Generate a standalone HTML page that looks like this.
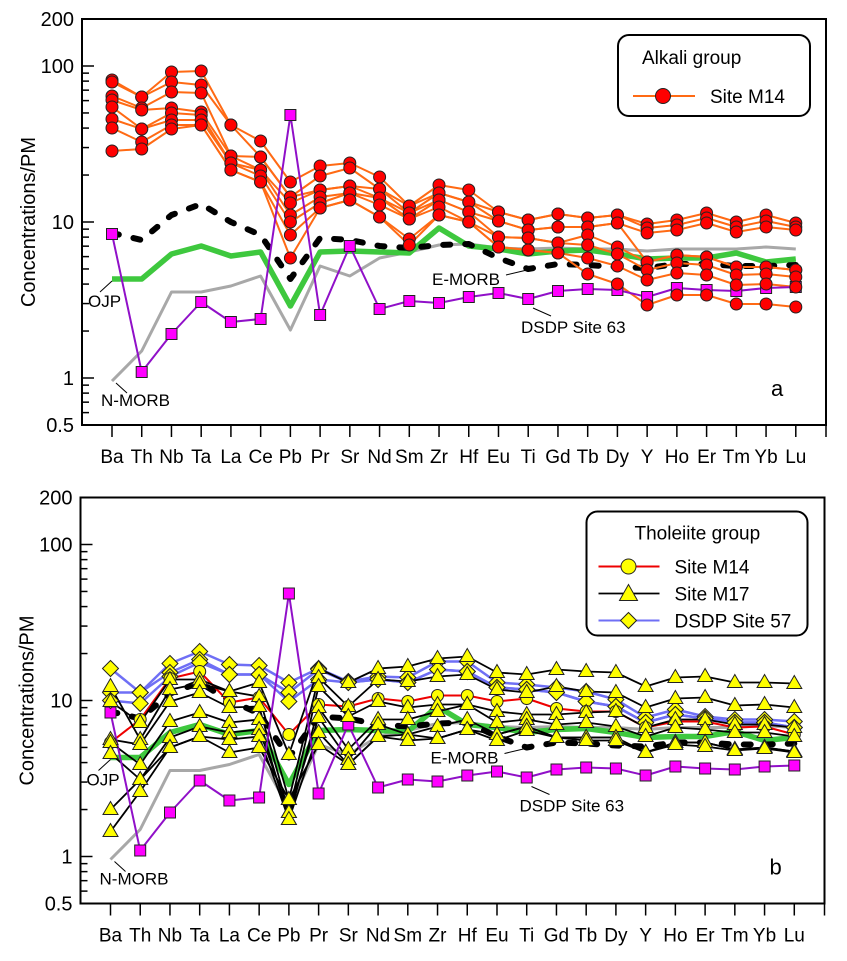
<!DOCTYPE html>
<html><head><meta charset="utf-8"><style>
html,body{margin:0;padding:0;background:#fff;}
svg{display:block;font-family:"Liberation Sans",Arial,sans-serif;}
</style></head><body>
<svg id="s" width="847" height="961" viewBox="0 0 847 961" xmlns="http://www.w3.org/2000/svg"></svg>
<script>
const S=document.getElementById('s');
const els=["Ba","Th","Nb","Ta","La","Ce","Pb","Pr","Sr","Nd","Sm","Zr","Hf","Eu","Ti","Gd","Tb","Dy","Y","Ho","Er","Tm","Yb","Lu"];
const X=i=>112+i*29.73;
const Y=v=>378-156*Math.log10(v);
let out='';
function poly(ys,stroke,w,extra){return `<polyline points="${ys.map((y,i)=>X(i).toFixed(1)+','+y).join(' ')}" fill="none" stroke="${stroke}" stroke-width="${w}" stroke-linejoin="round" ${extra||''}/>`;}
function circ(ys,fill){return ys.map((y,i)=>`<circle cx="${X(i).toFixed(1)}" cy="${y}" r="6" fill="${fill}" stroke="#222" stroke-width="1"/>`).join('');}
function sq(ys){return ys.map((y,i)=>`<rect x="${(X(i)-5.5).toFixed(1)}" y="${y-5.5}" width="11" height="11" fill="#ff00ff" stroke="#222" stroke-width="1"/>`).join('');}
function tri(ys){return ys.map((y,i)=>{const x=X(i);return `<polygon points="${x},${y-8} ${x-7.5},${y+5} ${x+7.5},${y+5}" fill="#ffff00" stroke="#222" stroke-width="1"/>`}).join('');}
function dia(ys){return ys.map((y,i)=>{const x=X(i);return `<polygon points="${x},${y-8} ${x+8},${y} ${x},${y+8} ${x-8},${y}" fill="#ffff00" stroke="#222" stroke-width="1"/>`}).join('');}

const green=[279,279,254,246,256,252,306,252,251,252,253,228,246,249,254,251,250,254,259,258,258,253,262,259];
const gray=[381,351,292,292,286,276,330,266,276,258,252,245,244,248,249,248,249,249,251,249,249,249,247,249];
const emorb=[233,240,215,204,222,235,279,238,240,246,248,245,244,258,269,264,265,267,268,264,264,266,266,265];
const mag=[234,372,334,302,322,319,115,315,246,309,301,303,297,293,299,291,289,290,297,288,290,291,288,287];

function axes(label){
  let o='';
  o+=`<rect x="82" y="19" width="744" height="406" fill="none" stroke="#000" stroke-width="2"/>`;
  for(let d=-1;d<=2;d++){for(let m=1;m<=9;m++){const v=m*Math.pow(10,d);if(v<0.5||v>200)continue;const y=Y(v);const L=(m===1)?12:7;o+=`<line x1="82" y1="${y}" x2="${82+L}" y2="${y}" stroke="#000" stroke-width="1.5"/>`;}}
  [[200,"200"],[100,"100"],[10,"10"],[1,"1"],[0.5,"0.5"]].forEach(([v,t])=>{o+=`<text x="74" y="${Y(v)+7}" font-size="20" text-anchor="end">${t}</text>`;});
  els.forEach((e,i)=>{o+=`<line x1="${X(i)}" y1="425" x2="${X(i)}" y2="437" stroke="#000" stroke-width="1.5"/>`;o+=`<text x="${X(i)}" y="463" font-size="19" text-anchor="middle">${e}</text>`;});
  o+=`<line x1="826" y1="425" x2="826" y2="437" stroke="#000" stroke-width="1.5"/>`;
  o+=`<text transform="translate(35,222) rotate(-90)" font-size="20" text-anchor="middle">Concentrations/PM</text>`;
  o+=`<text x="771" y="396" font-size="22">${label}</text>`;
  return o;
}
function refs(){
  let o='';
  o+=poly(gray,'#a8a8a8',3);
  o+=poly(green,'#3ec83e',5.5);
  o+=poly(emorb,'#000',6,'stroke-dasharray="7 15" stroke-linecap="round"');
  return o;
}
function magLine(){return poly(mag,'#9010c8',2)+sq(mag);}
function labels(){
  let o='';
  o+=`<line x1="100" y1="292" x2="112" y2="281" stroke="#000" stroke-width="1"/>`;
  o+=`<text x="88" y="307" font-size="17">OJP</text>`;
  o+=`<line x1="116" y1="383" x2="127" y2="393" stroke="#000" stroke-width="1"/>`;
  o+=`<text x="101" y="406" font-size="17">N-MORB</text>`;
  o+=`<line x1="506" y1="275" x2="527" y2="270" stroke="#000" stroke-width="1"/>`;
  o+=`<text x="432" y="285" font-size="17">E-MORB</text>`;
  o+=`<line x1="533" y1="308" x2="551" y2="316" stroke="#000" stroke-width="1"/>`;
  o+=`<text x="521" y="333" font-size="17">DSDP Site 63</text>`;
  return o;
}
const orange=[
[80,97,72,71,125,141,182,166,163,177,206,185,190,212,220,214,218,215,224,220,213,222,215,223],
[82,97,82,85,125,157,197,176,168,189,206,193,202,212,220,214,218,215,228,225,218,227,221,227],
[96,108,92,93,156,157,197,190,186,189,213,193,202,221,230,227,227,223,233,230,223,232,227,230],
[100,110,108,112,156,170,203,190,186,198,213,200,212,221,230,227,227,223,262,255,257,267,267,270],
[107,129,113,115,163,170,215,197,193,198,219,200,212,237,238,243,235,247,262,255,257,267,267,270],
[119,129,120,120,163,176,222,203,193,205,219,207,222,237,238,243,245,254,270,263,265,275,274,277],
[128,142,125,125,170,182,235,208,200,217,239,215,222,247,250,253,258,266,280,273,275,285,284,287],
[151,149,129,125,170,182,258,208,200,217,245,215,222,247,250,253,274,284,305,295,295,304,304,307]];
out+=axes('a');
out+=refs();
orange.forEach(l=>out+=poly(l,'#ff6a14',2));
out+=magLine();
orange.forEach(l=>out+=circ(l,'#ff0000'));
out+=labels();
out+=`<rect x="618" y="35" width="192" height="81" rx="11" fill="#fff" stroke="#000" stroke-width="2"/>`;
out+=`<text x="642" y="64" font-size="19">Alkali group</text>`;
out+=`<line x1="633" y1="96" x2="695" y2="96" stroke="#ff6a14" stroke-width="2"/><circle cx="663" cy="96" r="7.5" fill="#ff0000" stroke="#222"/>`;
out+=`<text x="710" y="103" font-size="19">Site M14</text>`;

let b='';
b+=axes('b');
b+=refs();
const blue=[
[190,214,185,173,186,187,204,190,203,198,199,183,183,204,206,209,213,221,239,231,238,241,241,243],
[214,214,194,181,196,196,214,191,204,201,204,191,193,209,211,214,223,228,244,236,240,244,244,249],
[222,225,198,184,196,196,223,201,204,201,204,191,193,209,211,214,223,228,244,236,240,244,244,249]];
const red=[264,241,200,193,224,219,256,226,228,220,223,217,217,223,220,230,233,233,249,243,243,249,248,256];
const black=[
[223,244,201,201,213,204,276,190,204,190,188,180,178,194,196,191,193,194,208,199,198,204,204,205],
[208,261,211,205,213,218,321,199,228,201,203,198,196,211,214,208,213,214,229,220,219,227,226,229],
[261,266,223,214,229,228,334,208,238,223,229,226,226,233,236,236,234,233,249,241,241,246,246,249],
[264,286,243,234,244,241,341,229,271,241,241,233,226,244,241,246,244,248,258,249,251,254,254,258],
[275,301,259,248,254,251,334,239,281,246,256,248,241,256,248,259,259,259,274,264,264,271,269,273],
[331,301,269,258,261,258,341,254,286,258,256,260,251,256,248,259,259,259,274,264,264,271,269,273],
[353,313,269,258,274,269,321,266,286,258,262,260,251,262,252,259,262,262,274,266,268,272,270,274]];
blue.forEach(l=>b+=poly(l,'#6f6ff5',2.5));
b+=poly(red,'#ee0000',2);
black.forEach(l=>b+=poly(l,'#000',1.8));
b+=magLine();
blue.forEach(l=>b+=dia(l));
b+=circ(red,'#ffff00');
black.forEach(l=>b+=tri(l));
b+=labels();
b+=`<rect x="588" y="33" width="221" height="124" rx="11" fill="#fff" stroke="#000" stroke-width="2"/>`;
b+=`<text x="636" y="61" font-size="19">Tholeiite group</text>`;
b+=`<line x1="600" y1="88" x2="661" y2="88" stroke="#ee0000" stroke-width="2"/><circle cx="630" cy="88" r="7.5" fill="#ffff00" stroke="#222"/>`;
b+=`<text x="676" y="95" font-size="19">Site M14</text>`;
b+=`<line x1="600" y1="115" x2="661" y2="115" stroke="#000" stroke-width="1.8"/><polygon points="630,106 621,122 639,122" fill="#ffff00" stroke="#222"/>`;
b+=`<text x="676" y="122" font-size="19">Site M17</text>`;
b+=`<line x1="600" y1="142" x2="661" y2="142" stroke="#6f6ff5" stroke-width="2"/><polygon points="630,134 638,142 630,150 622,142" fill="#ffff00" stroke="#222"/>`;
b+=`<text x="676" y="149" font-size="19">DSDP Site 57</text>`;
out+=`<g transform="translate(-1.5,478.5)">${b}</g>`;
S.innerHTML=out;
</script>
</body></html>
